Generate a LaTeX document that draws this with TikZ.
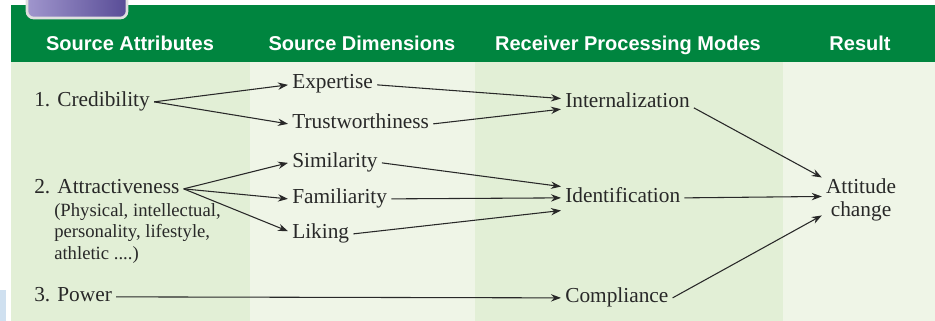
\documentclass[tikz,border=0pt]{standalone}
\usepackage{fontspec}
\setmainfont{Liberation Serif}
\setsansfont{Liberation Sans}
\usetikzlibrary{positioning,arrows.meta}
\definecolor{hdrgreen}{RGB}{0,133,63}
\definecolor{colA}{RGB}{226,239,214}
\definecolor{colB}{RGB}{239,245,231}
\definecolor{ink}{RGB}{40,40,40}
\definecolor{tabL}{RGB}{160,150,205}
\definecolor{tabR}{RGB}{88,76,150}
\definecolor{edgeblue}{RGB}{207,224,240}

\begin{document}
\begin{tikzpicture}[x=0.75pt, y=-0.75pt,
    every node/.style={font=\fontsize{16}{19}\selectfont, text=ink, inner sep=3pt, text height=1.6ex, text depth=0.25ex},
    hdr/.style={font=\sffamily\bfseries\fontsize{15}{18}\selectfont, text=white},
    note/.style={text height=, text depth=, align=left},
    arr/.style={draw=ink, line width=0.8pt, -{Stealth[length=7.5pt,width=5.5pt]}}]
\useasboundingbox (0,0) rectangle (935,321);

% column bands and header
\fill[colA] (11,62) rectangle (250,321);
\fill[colB] (250,62) rectangle (475,321);
\fill[colA] (475,62) rectangle (783,321);
\fill[colB] (783,62) rectangle (935,321);
\fill[hdrgreen] (11,5) rectangle (935,62);
\shade[left color=tabL, right color=tabR, draw=gray!25, line width=2pt, rounded corners=5pt] (27,-12) rectangle (127,18);
\fill[edgeblue] (0,290) rectangle (6,321);

\node[hdr] (hattr) at (130,46) {Source Attributes};
\node[hdr] (hdim) at (362,46) {Source Dimensions};
\node[hdr] (hmode) at (628,46) {Receiver Processing Modes};
\node[hdr] (hres) at (860,46) {Result};

% source attributes
\node[anchor=base west] (cred) at (30,106) {1. Credibility};
\node[anchor=base west] (attr) at (30,193) {2. Attractiveness};
\node[note, anchor=north west, font=\fontsize{14}{16.1}\selectfont] (attrnote) at (50,199)
    {(Physical, intellectual,\\personality, lifestyle,\\athletic ....)};
\node[anchor=base west] (pow) at (30,301) {3. Power};

% source dimensions
\node[anchor=base west] (exp) at (288,89) {Expertise};
\node[anchor=base west] (trust) at (288,128) {Trustworthiness};
\node[anchor=base west] (sim) at (288,167) {Similarity};
\node[anchor=base west] (fam) at (288,203) {Familiarity};
\node[anchor=base west] (lik) at (288,238) {Liking};

% processing modes
\node[anchor=base west] (int) at (561,108) {Internalization};
\node[anchor=base west] (ident) at (561,202) {Identification};
\node[anchor=base west] (comp) at (561,302) {Compliance};

\node[note, align=center, anchor=north, font=\fontsize{16}{17.25}\selectfont] (att) at (861,174) {Attitude\\change};

\draw[arr] (cred.east) -- (exp.west);
\draw[arr] (cred.east) -- (trust.west);
\draw[arr] (attr.east) -- (sim.west);
\draw[arr] (attr.east) -- (fam.west);
\draw[arr] (attr.east) -- ([yshift=2pt]lik.west);

\draw[arr] (exp.east) -- ([yshift=4pt]int.west);
\draw[arr] (trust.east) -- ([yshift=-4pt]int.west);
\draw[arr] (sim.east) -- ([yshift=8.5pt]ident.west);
\draw[arr] (fam.east) -- (ident.west);
\draw[arr] (lik.east) -- ([yshift=-9.5pt]ident.west);
\draw[arr] (pow.east) -- (comp.west);

\draw[arr] ([yshift=-3pt]int.east) -- ([yshift=16.5pt]att.west);
\draw[arr] (ident.east) -- ([yshift=2.25pt]att.west);
\draw[arr] (comp.east) -- ([yshift=-12pt]att.west);
\end{tikzpicture}
\end{document}
